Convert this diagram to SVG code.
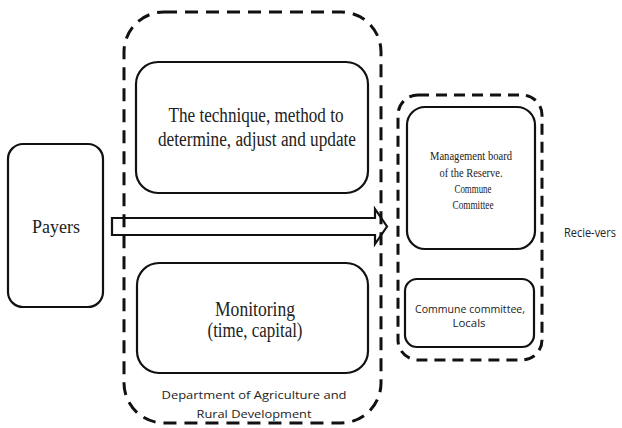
<svg xmlns="http://www.w3.org/2000/svg" width="622" height="428" viewBox="0 0 622 428">
<style>
.box{fill:none;stroke:#111;stroke-width:2.2}
.dash{fill:none;stroke:#111;stroke-width:3;stroke-dasharray:13 8}
.dash2{fill:none;stroke:#111;stroke-width:3;stroke-dasharray:11 7}
.serif{font-family:'Liberation Serif','DejaVu Serif',serif;fill:#222;text-anchor:middle}
.sans{font-family:'Open Sans','Liberation Sans',sans-serif;fill:#222;text-anchor:middle}
</style>
<rect width="622" height="428" fill="#fff"/>
<g id="payers">
<rect class="box" x="8" y="144" width="95" height="163" rx="15"/>
<text class="serif" x="56" y="233" font-size="19" textLength="48" lengthAdjust="spacingAndGlyphs">Payers</text>
</g>
<g id="department">
<rect class="dash" x="124" y="12" width="257" height="411" rx="40"/>
<text class="sans" x="254" y="399" font-size="11" textLength="185" lengthAdjust="spacingAndGlyphs">Department of Agriculture and</text>
<text class="sans" x="254" y="418" font-size="11" textLength="115" lengthAdjust="spacingAndGlyphs">Rural Development</text>
</g>
<g id="technique">
<rect class="box" x="136" y="62" width="232" height="131" rx="22"/>
<text class="serif" x="256" y="122" font-size="20" textLength="175" lengthAdjust="spacingAndGlyphs">The technique, method to</text>
<text class="serif" x="257" y="146" font-size="20" textLength="198" lengthAdjust="spacingAndGlyphs">determine, adjust and update</text>
</g>
<g id="monitoring">
<rect class="box" x="137" y="263" width="231" height="110" rx="22"/>
<text class="serif" x="255" y="316" font-size="20" textLength="80" lengthAdjust="spacingAndGlyphs">Monitoring</text>
<text class="serif" x="255" y="337" font-size="20" textLength="95" lengthAdjust="spacingAndGlyphs">(time, capital)</text>
</g>
<g id="receivers">
<rect class="dash2" x="398" y="95" width="144" height="265" rx="20"/>
</g>
<g id="management">
<rect class="box" x="407" y="107" width="128" height="142" rx="18"/>
<text class="serif" x="471" y="160" font-size="13" textLength="82" lengthAdjust="spacingAndGlyphs">Management board</text>
<text class="serif" x="471" y="177" font-size="13" textLength="63" lengthAdjust="spacingAndGlyphs">of the Reserve.</text>
<text class="serif" x="473" y="193" font-size="13" textLength="37" lengthAdjust="spacingAndGlyphs">Commune</text>
<text class="serif" x="473" y="209" font-size="13" textLength="41" lengthAdjust="spacingAndGlyphs">Committee</text>
</g>
<g id="locals">
<rect class="box" x="405" y="279" width="129" height="68" rx="12"/>
<text class="sans" x="470" y="313" font-size="10.5" textLength="110" lengthAdjust="spacingAndGlyphs">Commune committee,</text>
<text class="sans" x="469" y="327" font-size="10.5" textLength="33" lengthAdjust="spacingAndGlyphs">Locals</text>
</g>
<g id="label">
<text class="sans" x="590" y="237" font-size="12" textLength="52" lengthAdjust="spacingAndGlyphs">Recie-vers</text>
</g>
<g id="connectors">
<polygon points="112,218 375,218 375,209 387,226.5 375,244 375,235 112,235" fill="none" stroke="#111" stroke-width="2.2" stroke-linejoin="miter"/>
</g>
</svg>
